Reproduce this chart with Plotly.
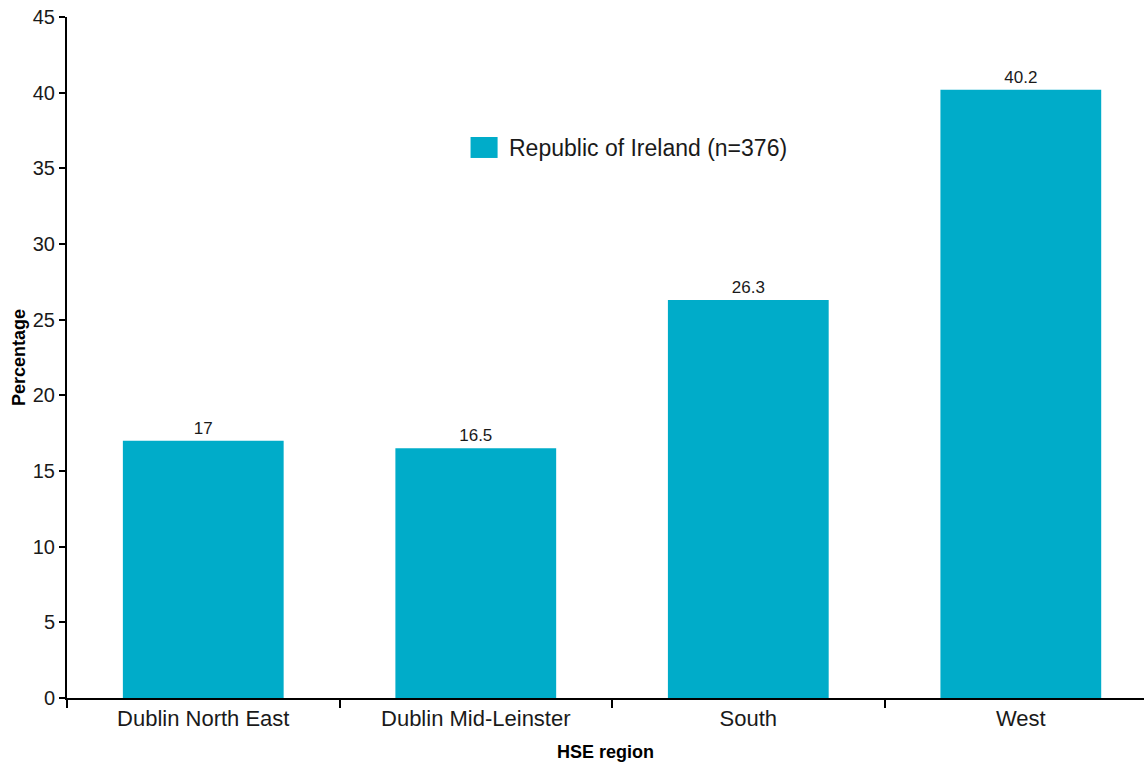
import plotly.graph_objects as go

regions = ["Dublin North East", "Dublin Mid-Leinster", "South", "West"]
percentages = [17, 16.5, 26.3, 40.2]
value_labels = ["17", "16.5", "26.3", "40.2"]
y_ticks = [0, 5, 10, 15, 20, 25, 30, 35, 40, 45]
series_name = "Republic of Ireland (n=376)"

BAR_COLOR = "#00ACC9"
FONT = "Liberation Sans, Arial, sans-serif"

fig = go.Figure()
fig.add_trace(go.Bar(
    x=regions,
    y=percentages,
    width=0.59,
    marker=dict(color=BAR_COLOR, line=dict(width=0)),
    text=value_labels,
    textposition="outside",
    textfont=dict(size=17, color="#1a1a1a", family=FONT),
    cliponaxis=False,
    name=series_name,
    showlegend=False,
))

# Legend key drawn as a swatch plus label
fig.add_shape(type="rect", xref="paper", yref="paper",
              x0=0.3747, x1=0.3998, y0=0.793, y1=0.8238,
              fillcolor=BAR_COLOR, line=dict(width=0))
fig.add_annotation(xref="paper", yref="paper", x=0.409, y=0.808,
                   xanchor="left", yanchor="middle", showarrow=False,
                   text=series_name,
                   font=dict(size=23, color="#1a1a1a", family=FONT))

fig.update_layout(
    width=1144, height=762,
    margin=dict(l=67, r=0, t=17, b=64),
    paper_bgcolor="white",
    plot_bgcolor="white",
    font=dict(family=FONT, color="#1a1a1a"),
)

fig.update_xaxes(
    range=[-0.5, 3.452],
    showline=True, linecolor="black", linewidth=2,
    ticks="outside", tickson="boundaries", ticklen=8, tickwidth=2, tickcolor="black",
    tickfont=dict(size=22, family=FONT, color="#1a1a1a"),
    showgrid=False, zeroline=False,
    title=dict(text="<b>HSE region</b>", font=dict(size=18, family=FONT, color="black"), standoff=18),
)
fig.update_yaxes(
    range=[0, 45],
    tickvals=y_ticks,
    showline=True, linecolor="black", linewidth=2,
    ticks="outside", ticklen=6, tickwidth=2, tickcolor="black",
    tickfont=dict(size=20, family=FONT, color="#1a1a1a"),
    showgrid=False, zeroline=False,
    title=dict(text="<b>Percentage</b>", font=dict(size=18, family=FONT, color="black"), standoff=2),
)

fig.write_html("out.html")
